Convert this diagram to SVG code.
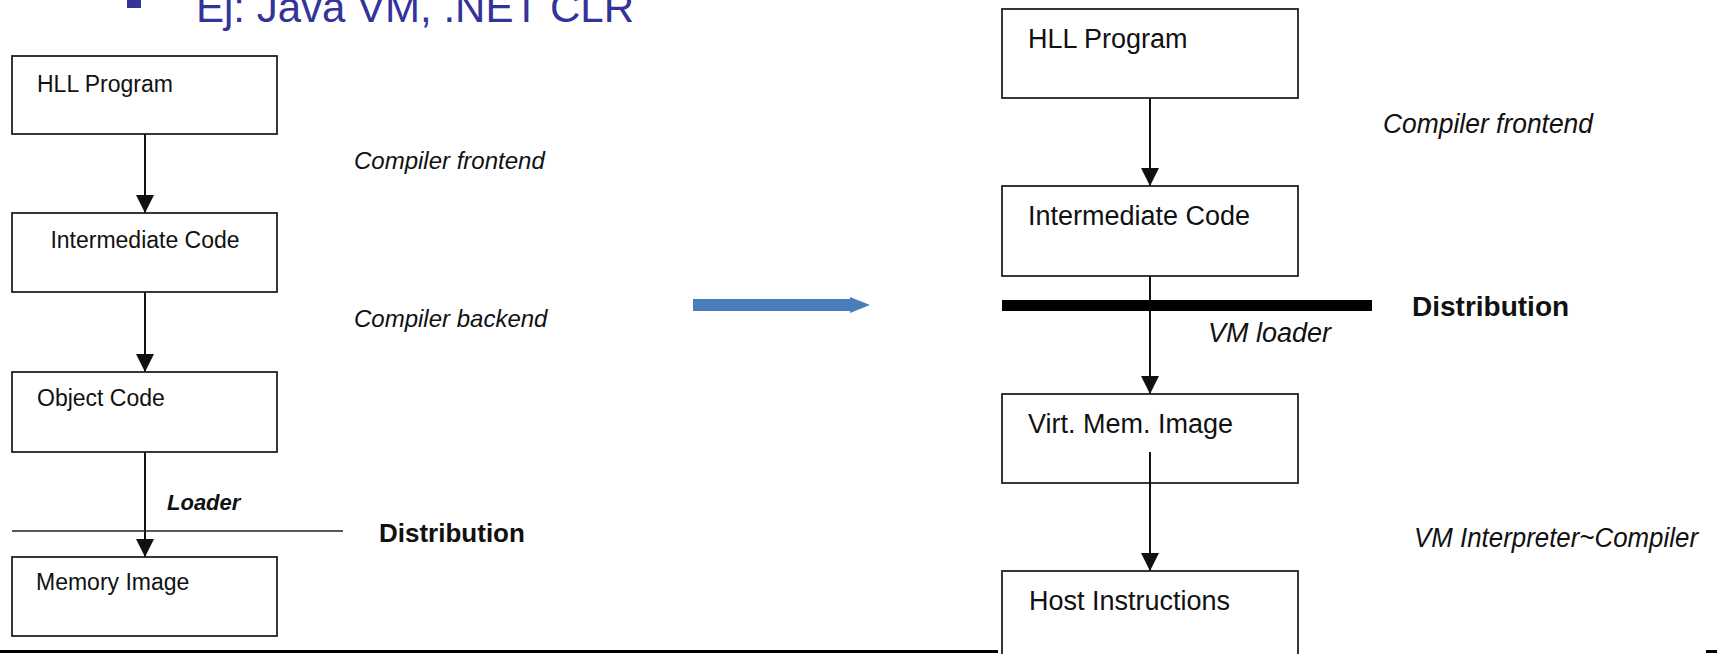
<svg xmlns="http://www.w3.org/2000/svg" width="1717" height="654" viewBox="0 0 1717 654">
<style>
.box{fill:#fff;stroke:#222;stroke-width:1.8}
.lt{font-family:"Liberation Sans",Arial,sans-serif;font-size:23px;fill:#111}
.rt{font-family:"Liberation Sans",Arial,sans-serif;font-size:27px;fill:#111}
.it{font-style:italic}
.bd{font-weight:bold}
.con{stroke:#111;stroke-width:2;fill:none}
.title{font-family:"Liberation Sans",Arial,sans-serif;font-size:42px;fill:#333399}
</style>
<defs>
<marker id="ah" markerWidth="18" markerHeight="18" viewBox="0 0 18 18" refX="18" refY="9" orient="auto" markerUnits="userSpaceOnUse">
<path d="M0,0 L18,9 L0,18 Z" fill="#111"/>
</marker>
</defs>
<rect width="1717" height="654" fill="#fff"/>
<g id="title">
<rect x="127" y="-6" width="14" height="14" fill="#333399"/>
<text class="title" x="196" y="22">Ej: Java VM, .NET CLR</text>
</g>
<g id="connectors">
<line class="con" x1="145" y1="134" x2="145" y2="213" marker-end="url(#ah)"/>
<line class="con" x1="145" y1="292" x2="145" y2="372" marker-end="url(#ah)"/>
<line class="con" x1="145" y1="452" x2="145" y2="557" marker-end="url(#ah)"/>
<line class="con" x1="1150" y1="98" x2="1150" y2="186" marker-end="url(#ah)"/>
<line class="con" x1="1150" y1="276" x2="1150" y2="394" marker-end="url(#ah)"/>
<line class="con" x1="1150" y1="452" x2="1150" y2="571" marker-end="url(#ah)"/>
<polygon points="693,299 850,299 850,297 870,305 850,313 850,311 693,311" fill="#4a7ebb"/>
</g>
<g id="left-distribution">
<line x1="12" y1="531" x2="343" y2="531" stroke="#222" stroke-width="1.6"/>
<text class="lt bd" x="379" y="542" font-size="26" style="font-size:26px">Distribution</text>
</g>
<g id="left-labels">
<text class="lt it" x="354" y="169" style="font-size:24px">Compiler frontend</text>
<text class="lt it" x="354" y="327" style="font-size:24px">Compiler backend</text>
<text class="lt it bd" x="167" y="510" style="font-size:22px">Loader</text>
</g>
<g id="l-hll"><rect class="box" x="12" y="56" width="265" height="78"/><text class="lt" x="37" y="92">HLL Program</text></g>
<g id="l-inter"><rect class="box" x="12" y="213" width="265" height="79"/><text class="lt" x="145" y="248" text-anchor="middle">Intermediate Code</text></g>
<g id="l-obj"><rect class="box" x="12" y="372" width="265" height="80"/><text class="lt" x="37" y="406">Object Code</text></g>
<g id="l-mem"><rect class="box" x="12" y="557" width="265" height="79"/><text class="lt" x="36" y="590">Memory Image</text></g>
<g id="right-distribution">
<rect x="1002" y="300" width="370" height="11" fill="#000"/>
<text class="rt bd" x="1412" y="316" style="font-size:28px">Distribution</text>
</g>
<g id="right-labels">
<text class="rt it" x="1383" y="133" textLength="210" lengthAdjust="spacingAndGlyphs">Compiler frontend</text>
<text class="rt it" x="1208" y="342">VM loader</text>
<text class="rt it" x="1414" y="547" textLength="284" lengthAdjust="spacingAndGlyphs">VM Interpreter~Compiler</text>
</g>
<g id="r-hll"><rect class="box" x="1002" y="9" width="296" height="89"/><text class="rt" x="1028" y="48">HLL Program</text></g>
<g id="r-inter"><rect class="box" x="1002" y="186" width="296" height="90"/><text class="rt" x="1028" y="225">Intermediate Code</text></g>
<g id="r-virt"><rect class="box" x="1002" y="394" width="296" height="89"/><text class="rt" x="1028" y="433">Virt. Mem. Image</text></g>
<line class="con" x1="1150" y1="452" x2="1150" y2="483"/>
<g id="r-host"><rect class="box" x="1002" y="571" width="296" height="100"/><text class="rt" x="1029" y="610">Host Instructions</text></g>
<g id="footer">
<line x1="0" y1="651.5" x2="998" y2="651.5" stroke="#000" stroke-width="3"/>
<line x1="1706" y1="651.5" x2="1717" y2="651.5" stroke="#000" stroke-width="3"/>
</g>
</svg>
